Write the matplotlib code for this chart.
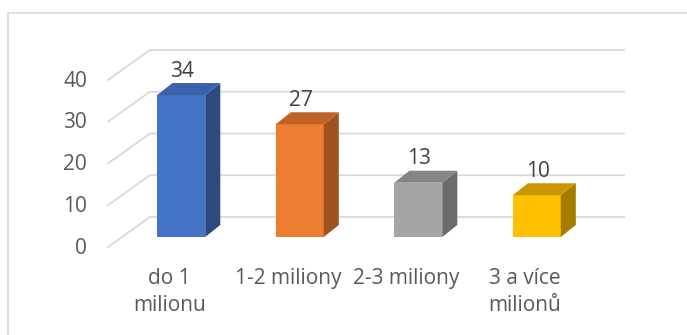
import matplotlib.pyplot as plt
from matplotlib.patches import Rectangle, Polygon

categories = ['do 1\nmilionu', '1-2 miliony', '2-3 miliony', '3 a více\nmilionů']
values = [34, 27, 13, 10]
yticks = [0, 10, 20, 30, 40]

front_colors = ['#4472C4', '#ED7D31', '#A5A5A5', '#FFC000']
side_colors = ['#2B4A80', '#A0521E', '#6B6B6B', '#A67C00']
top_colors = ['#3A62AC', '#BF6226', '#858585', '#C99700']

plt.rcParams['font.family'] = ['Open Sans', 'DejaVu Sans']

W, H = 687, 335
fig = plt.figure(figsize=(W / 100, H / 100), dpi=100)

# pseudo 3d geometry (data units)
DX, DY = 0.354, 7.19      # floor / wall depth
FX, FY = 0.118, 2.4       # bar front offset from floor front edge
BX, BY = 0.127, 2.87      # bar depth
BW = 0.405                # bar width

ax = fig.add_axes([108 / W, (H - 247) / H, (624 - 108) / W, (247 - 50) / H])
ax.set_xlim(-0.5, len(values) - 0.5 + DX)
ax.set_ylim(0, max(yticks) + DY)
ax.axis('off')

grid_c = '#d9d9d9'
for v in yticks:
    ax.plot([-0.5, -0.5 + DX, len(values) - 0.5 + DX], [v, v + DY, v + DY],
            color=grid_c, lw=1.3, clip_on=False, zorder=1)
    ax.annotate(str(v), (-0.5, v), xytext=(-21, -1), textcoords='offset pixels',
                ha='right', va='center', fontsize=15, color='#595959')

for i, v in enumerate(values):
    x0 = i - BW / 2 + FX
    x1 = x0 + BW
    ax.add_patch(Rectangle((x0, FY), BW, v, fc=front_colors[i], ec='none', zorder=3))
    ax.add_patch(Polygon([(x1, FY), (x1 + BX, FY + BY), (x1 + BX, FY + v + BY), (x1, FY + v)],
                         fc=side_colors[i], ec='none', zorder=3))
    ax.add_patch(Polygon([(x0, FY + v), (x1, FY + v), (x1 + BX, FY + v + BY), (x0 + BX, FY + v + BY)],
                         fc=top_colors[i], ec='none', zorder=3))
    ax.annotate(str(v), (i + FX, FY + v), xytext=(1, 24), textcoords='offset pixels',
                ha='center', va='center', fontsize=15, color='#404040', zorder=4)
    ax.annotate(categories[i], (i, 0), xytext=(2, -21), textcoords='offset pixels',
                ha='center', va='top', fontsize=15, color='#595959', linespacing=1.4)

# chart border
fig.add_artist(Rectangle((8 / W, -0.1), 1.5, (H - 13) / H + 0.1, transform=fig.transFigure,
                         fill=False, ec='#d9d9d9', lw=1.2))

fig.savefig('out.png', dpi=100)
